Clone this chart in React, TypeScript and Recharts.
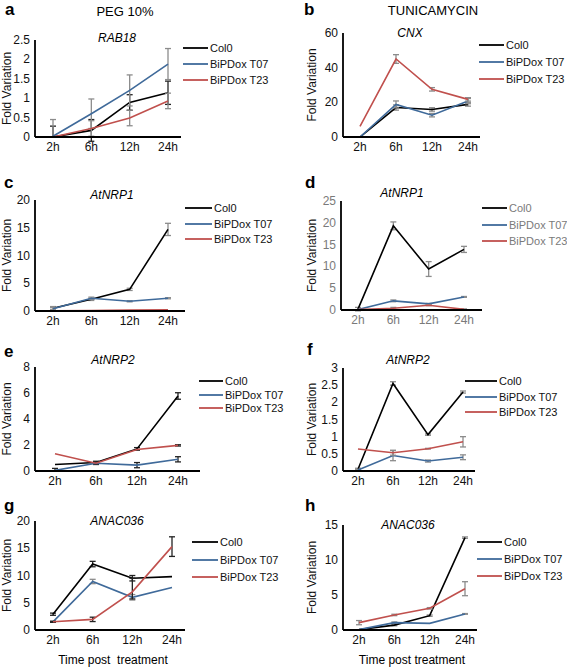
import React from 'react';
import { LineChart, Line, XAxis, YAxis, ErrorBar, Legend } from 'recharts';

type Err = number | [number, number];

const times = ['2h', '6h', '12h', '24h'];
const seriesNames = ['Col0', 'BiPDox T07', 'BiPDox T23'];
const seriesColors = ['#000000', '#3f6a9a', '#c0504d'];

// a – RAB18 (PEG 10%)
const rab18Col0 = [0, 0.17, 0.89, 1.14];
const rab18T07 = [0.02, 0.6, 1.2, 1.88];
const rab18T23 = [0, 0.22, 0.49, 0.93];
const rab18Col0Err: Err[] = [[0, 0.28], 0.28, 0.2, 0.3];
const rab18T07Err: Err[] = [[0.02, 0.43], 0.38, 0.4, 0.4];
const rab18T23Err: Err[] = [0, 0.2, 0.2, 0.2];

// b – CNX (tunicamycin)
const cnxCol0 = [0, 17, 15.9, 18.8];
const cnxT07 = [0, 18.8, 12.6, 20.7];
const cnxT23 = [6.2, 45, 27.5, 21.7];
const cnxCol0Err: Err[] = [0, 1.5, 1, 1];
const cnxT07Err: Err[] = [0, 2, 1, 1.5];
const cnxT23Err: Err[] = [0, 2.5, 1, 1];

// c – AtNRP1 (PEG 10%)
const nrp1PegCol0 = [0.5, 2.1, 3.9, 14.7];
const nrp1PegT07 = [0.4, 2.3, 1.75, 2.3];
const nrp1PegT23 = [0.05, 0.1, 0.15, 0.2];
const nrp1PegCol0Err: Err[] = [0.3, 0.2, 0.2, 1.1];
const nrp1PegT07Err: Err[] = [0.2, 0.2, 0.1, 0.1];
const nrp1PegT23Err: Err[] = [0, 0, 0, 0];

// d – AtNRP1 (tunicamycin)
const nrp1TunCol0 = [0.2, 19.3, 9.4, 13.9];
const nrp1TunT07 = [0.1, 2.1, 1.4, 3.0];
const nrp1TunT23 = [0.1, 0.4, 1.1, 0.15];
const nrp1TunCol0Err: Err[] = [0.4, 0.9, 1.7, 0.7];
const nrp1TunT07Err: Err[] = [0, 0.2, 0.1, 0.1];
const nrp1TunT23Err: Err[] = [0, 0.2, 0.1, 0.1];

// e – AtNRP2 (PEG 10%)
const nrp2PegCol0 = [0.5, 0.65, 1.7, 5.77];
const nrp2PegT07 = [0.05, 0.6, 0.45, 0.9];
const nrp2PegT23 = [1.33, 0.6, 1.65, 1.97];
const nrp2PegCol0Err: Err[] = [0, 0.1, 0.1, 0.25];
const nrp2PegT07Err: Err[] = [[0.05, 0.15], 0.1, 0.2, 0.2];
const nrp2PegT23Err: Err[] = [0, 0, 0, 0.05];

// f – AtNRP2 (tunicamycin)
const nrp2TunCol0 = [0.05, 2.55, 1.06, 2.3];
const nrp2TunT07 = [0.03, 0.45, 0.29, 0.4];
const nrp2TunT23 = [0.64, 0.53, 0.65, 0.85];
const nrp2TunCol0Err: Err[] = [0.03, 0.05, 0.02, 0.03];
const nrp2TunT07Err: Err[] = [0.02, 0.15, 0.03, 0.07];
const nrp2TunT23Err: Err[] = [0, 0.07, 0.01, 0.15];

// g – ANAC036 (PEG 10%)
const anacPegCol0 = [2.9, 12.1, 9.5, 9.8];
const anacPegT07 = [1.5, 8.9, 6.0, 7.8];
const anacPegT23 = [1.5, 1.95, 7.0, 15.3];
const anacPegCol0Err: Err[] = [0.2, 0.5, 0.5, 0];
const anacPegT07Err: Err[] = [0.1, 0.4, 0.5, 0];
const anacPegT23Err: Err[] = [0.1, 0.4, [1.3, 2.5], 1.8];

// h – ANAC036 (tunicamycin)
const anacTunCol0 = [0.05, 0.7, 2.05, 13.2];
const anacTunT07 = [0.05, 1.05, 0.95, 2.3];
const anacTunT23 = [1.05, 2.15, 3.1, 5.9];
const anacTunCol0Err: Err[] = [0, 0.1, 0.1, 0.1];
const anacTunT07Err: Err[] = [0, 0.1, 0, 0.05];
const anacTunT23Err: Err[] = [0.3, 0.1, 0.1, 1.0];

const GREY = '#8c8c8c';
const FONT = '"Liberation Sans", Arial, sans-serif';

type Panel = {
  gene: string;
  values: number[][];
  errors: Err[][];
  errColors: string[];
  yMax: number;
  yTicks: number[];
  tickFill: string;
  legendFill: string;
  // layout (page coordinates)
  L: number; T: number; W: number; H: number;
  axisX: number; plotTop: number; plotBottom: number; axisEnd: number;
  padL: number; padR: number;
  legX: number; legY: number; legGap: number; legLen: number;
  labelX: number;
};

const panels: Panel[] = [
  {
    gene: 'RAB18', values: [rab18Col0, rab18T07, rab18T23], errors: [rab18Col0Err, rab18T07Err, rab18T23Err],
    errColors: ['#222', GREY, GREY], yMax: 2.5, yTicks: [0, 0.5, 1, 1.5, 2, 2.5], tickFill: '#111', legendFill: '#111',
    L: 0, T: 0, W: 283, H: 165, axisX: 35, plotTop: 40, plotBottom: 137, axisEnd: 181, padL: 18, padR: 13,
    legX: 183, legY: 48, legGap: 16, legLen: 25, labelX: 7,
  },
  {
    gene: 'CNX', values: [cnxCol0, cnxT07, cnxT23], errors: [cnxCol0Err, cnxT07Err, cnxT23Err],
    errColors: [GREY, GREY, GREY], yMax: 60, yTicks: [0, 20, 40, 60], tickFill: '#111', legendFill: '#111',
    L: 283, T: 0, W: 284, H: 165, axisX: 343, plotTop: 33, plotBottom: 137, axisEnd: 480, padL: 17, padR: 12,
    legX: 479, legY: 45, legGap: 17, legLen: 25, labelX: 312,
  },
  {
    gene: 'AtNRP1', values: [nrp1PegCol0, nrp1PegT07, nrp1PegT23], errors: [nrp1PegCol0Err, nrp1PegT07Err, nrp1PegT23Err],
    errColors: [GREY, GREY, GREY], yMax: 20, yTicks: [0, 5, 10, 15, 20], tickFill: '#111', legendFill: '#111',
    L: 0, T: 165, W: 283, H: 165, axisX: 35, plotTop: 200, plotBottom: 311, axisEnd: 185, padL: 18, padR: 17,
    legX: 185, legY: 208, legGap: 15.5, legLen: 27, labelX: 7,
  },
  {
    gene: 'AtNRP1', values: [nrp1TunCol0, nrp1TunT07, nrp1TunT23], errors: [nrp1TunCol0Err, nrp1TunT07Err, nrp1TunT23Err],
    errColors: [GREY, GREY, GREY], yMax: 25, yTicks: [0, 5, 10, 15, 20, 25], tickFill: '#7a7a7a', legendFill: '#7a7a7a',
    L: 283, T: 165, W: 284, H: 165, axisX: 341, plotTop: 201, plotBottom: 310, axisEnd: 482, padL: 17, padR: 18,
    legX: 482, legY: 208, legGap: 16.5, legLen: 25, labelX: 312,
  },
  {
    gene: 'AtNRP2', values: [nrp2PegCol0, nrp2PegT07, nrp2PegT23], errors: [nrp2PegCol0Err, nrp2PegT07Err, nrp2PegT23Err],
    errColors: ['#222', '#222', '#222'], yMax: 8, yTicks: [0, 2, 4, 6, 8], tickFill: '#111', legendFill: '#111',
    L: 0, T: 330, W: 283, H: 165, axisX: 35, plotTop: 367, plotBottom: 471, axisEnd: 200, padL: 20, padR: 22,
    legX: 199, legY: 381, legGap: 13.5, legLen: 24, labelX: 7,
  },
  {
    gene: 'AtNRP2', values: [nrp2TunCol0, nrp2TunT07, nrp2TunT23], errors: [nrp2TunCol0Err, nrp2TunT07Err, nrp2TunT23Err],
    errColors: [GREY, GREY, GREY], yMax: 3, yTicks: [0, 0.5, 1, 1.5, 2, 2.5, 3], tickFill: '#111', legendFill: '#111',
    L: 283, T: 330, W: 284, H: 165, axisX: 343, plotTop: 368, plotBottom: 471, axisEnd: 475, padL: 15, padR: 12,
    legX: 465, legY: 381, legGap: 15.5, legLen: 32, labelX: 312,
  },
  {
    gene: 'ANAC036', values: [anacPegCol0, anacPegT07, anacPegT23], errors: [anacPegCol0Err, anacPegT07Err, anacPegT23Err],
    errColors: ['#222', GREY, '#222'], yMax: 20, yTicks: [0, 5, 10, 15, 20], tickFill: '#111', legendFill: '#111',
    L: 0, T: 495, W: 283, H: 175, axisX: 35, plotTop: 521, plotBottom: 630, axisEnd: 185, padL: 18, padR: 13,
    legX: 192, legY: 542, legGap: 17.5, legLen: 26, labelX: 7,
  },
  {
    gene: 'ANAC036', values: [anacTunCol0, anacTunT07, anacTunT23], errors: [anacTunCol0Err, anacTunT07Err, anacTunT23Err],
    errColors: [GREY, GREY, GREY], yMax: 15, yTicks: [0, 5, 10, 15], tickFill: '#111', legendFill: '#111',
    L: 283, T: 495, W: 284, H: 175, axisX: 343, plotTop: 525, plotBottom: 630, axisEnd: 477, padL: 16, padR: 12,
    legX: 477, legY: 542, legGap: 17, legLen: 25, labelX: 312,
  },
];

const panelLetters: [string, number, number][] = [
  ['a', 5, 15], ['b', 304, 15], ['c', 4, 188], ['d', 305, 188],
  ['e', 4, 357], ['f', 307, 355], ['g', 4, 511], ['h', 305, 511],
];
const geneTitlePos: [number, number][] = [
  [117, 42], [410, 37], [112, 199], [402, 197], [113, 364], [408, 364], [117, 525], [408, 529],
];

const X_AXIS_H = 20;

function LegendBox({ payload, p }: { payload?: any[]; p: Panel }) {
  const items = [...(payload || [])].sort(
    (a, b) => seriesNames.indexOf(a.value) - seriesNames.indexOf(b.value)
  );
  return (
    <div style={{ fontFamily: FONT }}>
      {items.map((it) => (
        <div key={it.value} style={{ height: p.legGap, display: 'flex', alignItems: 'center' }}>
          <svg width={p.legLen} height={4} style={{ display: 'block' }}>
            <line x1={0} y1={2} x2={p.legLen} y2={2} stroke={it.color} strokeWidth={1.8} />
          </svg>
          <span style={{ fontSize: 11, color: p.legendFill, marginLeft: 2, whiteSpace: 'nowrap' }}>{it.value}</span>
        </div>
      ))}
    </div>
  );
}

function YTick(props: any) {
  const { x, y, payload, fill } = props;
  return (
    <text x={x} y={y} dy={4} textAnchor="end" fontSize={12} fill={fill} fontFamily={FONT}>
      {String(payload.value)}
    </text>
  );
}

function PanelChart({ p }: { p: Panel }) {
  const data = times.map((t, i) => ({
    t,
    s0: p.values[0][i], s1: p.values[1][i], s2: p.values[2][i],
    e0: p.errors[0][i], e1: p.errors[1][i], e2: p.errors[2][i],
  }));
  const margin = {
    top: p.plotTop - p.T,
    left: 0,
    right: p.L + p.W - p.axisEnd,
    bottom: p.T + p.H - p.plotBottom - X_AXIS_H,
  };
  return (
    <div style={{ position: 'absolute', left: p.L, top: p.T }}>
      <LineChart width={p.W} height={p.H} data={data} margin={margin}>
        <XAxis
          dataKey="t"
          interval={0}
          tickLine={false}
          tickSize={3}
          height={X_AXIS_H}
          padding={{ left: p.padL, right: p.padR }}
          axisLine={{ stroke: '#000', strokeWidth: 1.8 }}
          tick={{ fontSize: 12, fill: p.tickFill, fontFamily: FONT }}
        />
        <YAxis
          type="number"
          width={p.axisX - p.L}
          domain={[0, p.yMax]}
          ticks={p.yTicks}
          interval={0}
          allowDataOverflow
          tickLine={false}
          tickSize={3}
          axisLine={{ stroke: '#000', strokeWidth: 1.8 }}
          tick={<YTick fill={p.tickFill} />}
          label={{
            value: 'Fold Variation',
            angle: -90,
            position: 'insideLeft',
            offset: p.labelX - p.L,
            style: { textAnchor: 'middle', fontSize: 12, fill: '#111', fontFamily: FONT },
          }}
        />
        <Legend
          layout="vertical"
          align="center"
          verticalAlign="middle"
          wrapperStyle={{ left: p.legX - p.L, top: p.legY - p.legGap / 2 - p.T, width: 'auto', height: 'auto' }}
          content={(props: any) => <LegendBox payload={props.payload} p={p} />}
        />
        {[0, 1, 2].map((k) => (
          <Line
            key={k}
            type="linear"
            dataKey={`s${k}`}
            name={seriesNames[k]}
            stroke={seriesColors[k]}
            strokeWidth={1.6}
            dot={false}
            activeDot={false}
            isAnimationActive={false}
          >
            <ErrorBar dataKey={`e${k}`} direction="y" width={3} stroke={p.errColors[k]} strokeWidth={1.3} />
          </Line>
        ))}
      </LineChart>
    </div>
  );
}

export default function App() {
  return (
    <div
      style={{
        position: 'absolute',
        left: 0,
        top: 0,
        width: 567,
        height: 670,
        background: '#fff',
        fontFamily: FONT,
      }}
    >
      {panels.map((p, i) => (
        <PanelChart key={i} p={p} />
      ))}
      <svg
        width={567}
        height={670}
        style={{ position: 'absolute', left: 0, top: 0, pointerEvents: 'none' }}
        fontFamily={FONT}
      >
        {panelLetters.map(([l, x, y]) => (
          <text key={l} x={x} y={y} fontSize={17} fontWeight="bold" fill="#000">
            {l}
          </text>
        ))}
        <text x={125} y={16} fontSize={13} textAnchor="middle" fill="#000">PEG 10%</text>
        <text x={433} y={15} fontSize={13} textAnchor="middle" fill="#000">TUNICAMYCIN</text>
        {panels.map((p, i) => (
          <text
            key={`g${i}`}
            x={geneTitlePos[i][0]}
            y={geneTitlePos[i][1]}
            fontSize={12}
            fontStyle="italic"
            textAnchor="middle"
            fill="#000"
          >
            {p.gene}
          </text>
        ))}
        <text x={113} y={664} fontSize={12} textAnchor="middle" fill="#000" style={{ whiteSpace: 'pre' }}>
          {'Time post  treatment'}
        </text>
        <text x={412} y={664} fontSize={12} textAnchor="middle" fill="#000">
          Time post treatment
        </text>
      </svg>
    </div>
  );
}
